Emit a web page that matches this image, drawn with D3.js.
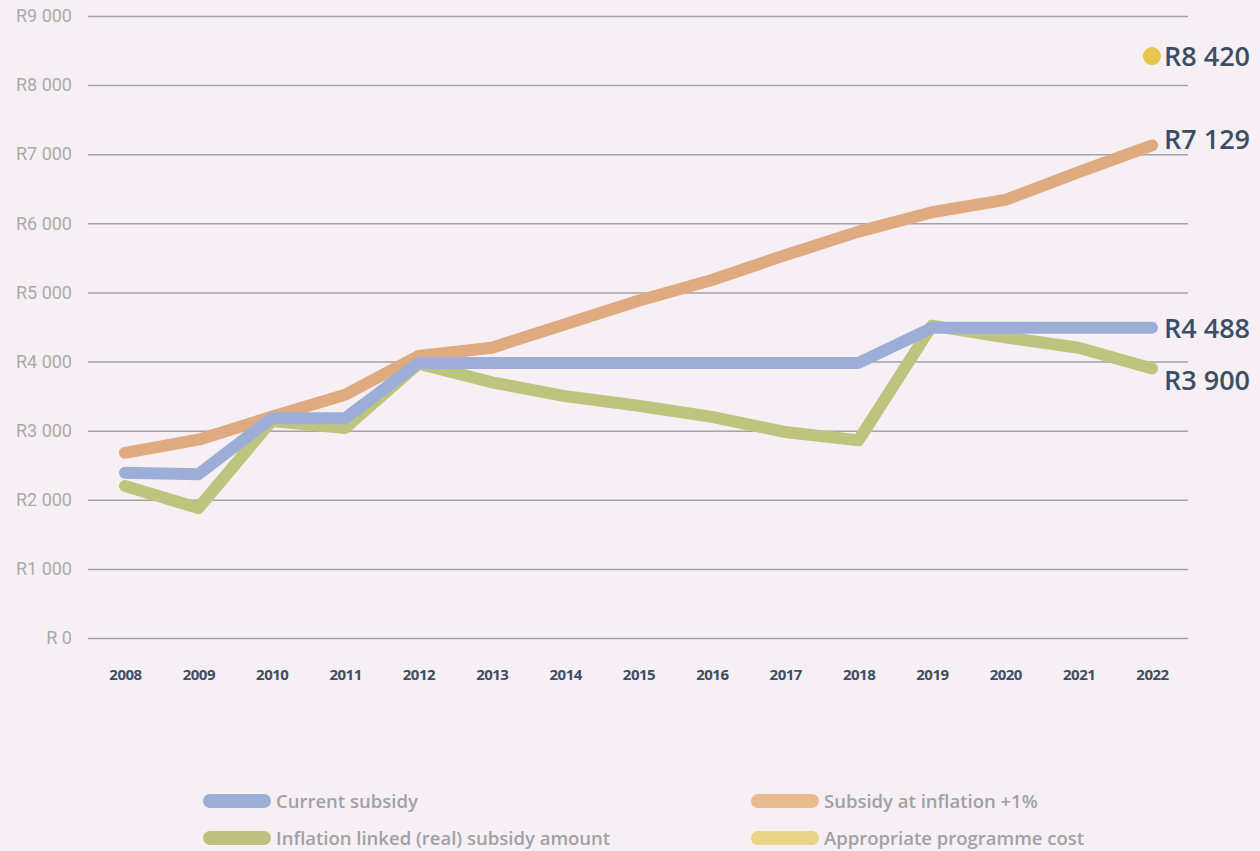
<!DOCTYPE html>
<meta charset="utf-8">
<head>
    <title>Subsidy comparison</title>
</head>
<style>
    body { margin: 0; background: #f6f0f4; }
    svg { display: block; }
</style>
<script src="https://d3js.org/d3.v7.min.js"></script>
<body>
    <div id="chart"></div>
</body>
<script>

    // data
    var years = ["2008", "2009", "2010", "2011", "2012", "2013", "2014", "2015",
        "2016", "2017", "2018", "2019", "2020", "2021", "2022"];
    var inflationPlus1 = [2680, 2870, 3200, 3520, 4080, 4200, 4540, 4880, 5180, 5540, 5880, 6160, 6340, 6740, 7129];
    var currentSubsidy = [2390, 2370, 3180, 3180, 3980, 3980, 3980, 3980, 3980, 3980, 3980, 4488, 4488, 4488, 4488];
    var realSubsidy = [2200, 1880, 3140, 3040, 3970, 3700, 3500, 3360, 3200, 2980, 2860, 4520, 4350, 4200, 3900];
    var programmeCost = 8420;
    var yTicks = [0, 1000, 2000, 3000, 4000, 5000, 6000, 7000, 8000, 9000];
    var endLabels = ["R8 420", "R7 129", "R4 488", "R3 900"];

    var width = 1260, height = 851;

    var svg = d3.select("#chart")
        .append("svg")
        .attr("width", width)
        .attr("height", height);

    var x = d3.scalePoint()
        .domain(years)
        .range([125, 1152]);

    var y = d3.scaleLinear()
        .domain([0, 9000])
        .range([638, 16]);

    var fmt = function (d) {
        return "R" + (d === 0 ? " 0" : d3.format(",")(d).replace(",", " "));
    };

    // y gridlines + labels
    var yAxis = d3.axisLeft(y)
        .tickValues(yTicks)
        .tickSize(-1100)
        .tickPadding(16)
        .tickFormat(fmt);

    var gy = svg.append("g")
        .attr("transform", "translate(88,0)")
        .call(yAxis);
    gy.select(".domain").remove();
    gy.selectAll("line")
        .attr("stroke", "#a3a3a3")
        .attr("stroke-width", 1.5);
    gy.selectAll("text")
        .attr("fill", "#aaaaaa")
        .attr("font-family", "Roboto, sans-serif")
        .attr("font-size", "18px");

    // x labels
    var xAxis = d3.axisBottom(x).tickSize(0).tickPadding(0);
    var gx = svg.append("g")
        .attr("transform", "translate(0,669)")
        .call(xAxis);
    gx.select(".domain").remove();
    gx.selectAll("text")
        .attr("fill", "#3f4d62")
        .attr("font-family", "Open Sans, sans-serif")
        .attr("font-weight", "bold")
        .attr("font-size", "15px")
        .attr("letter-spacing", "-0.5px");

    var line = d3.line()
        .x(function (d, i) { return x(years[i]); })
        .y(function (d) { return y(d); });

    var series = [
        { values: realSubsidy, color: "#bcc47e" },
        { values: inflationPlus1, color: "#e0aa80" },
        { values: currentSubsidy, color: "#9caed8" }
    ];

    svg.selectAll(".series")
        .data(series)
        .enter()
        .append("path")
        .attr("class", "series")
        .attr("fill", "none")
        .attr("stroke", function (d) { return d.color; })
        .attr("stroke-width", 12)
        .attr("stroke-linecap", "round")
        .attr("stroke-linejoin", "round")
        .attr("d", function (d) { return line(d.values); });

    // programme cost dot
    var last = years[years.length - 1];
    svg.append("circle")
        .attr("cx", x(last))
        .attr("cy", y(programmeCost))
        .attr("r", 9)
        .attr("fill", "#e6c64c");

    // end labels
    var labelY = [y(programmeCost), y(7129) - 6, y(4488), y(3900) + 12];
    svg.selectAll(".endlabel")
        .data(endLabels)
        .enter()
        .append("text")
        .attr("class", "endlabel")
        .attr("x", x(last) + 12)
        .attr("y", function (d, i) { return labelY[i]; })
        .attr("dy", "0.36em")
        .attr("fill", "#3d4d63")
        .attr("font-family", "Open Sans, sans-serif")
        .attr("font-weight", 600)
        .attr("font-size", "27px")
        .text(function (d) { return d; });

    // legend
    var legendItems = [
        { name: "Current subsidy", color: "#9aaed6", x: 203, y: 801 },
        { name: "Subsidy at inflation +1%", color: "#ebbb90", x: 751, y: 801 },
        { name: "Inflation linked (real) subsidy amount", color: "#bcc27e", x: 203, y: 838 },
        { name: "Appropriate programme cost", color: "#e9d488", x: 751, y: 838 }
    ];

    var lg = svg.selectAll(".legend")
        .data(legendItems)
        .enter()
        .append("g")
        .attr("class", "legend")
        .attr("transform", function (d) { return "translate(" + d.x + "," + d.y + ")"; });

    lg.append("rect")
        .attr("x", 0)
        .attr("y", -7)
        .attr("width", 68)
        .attr("height", 14)
        .attr("rx", 7)
        .attr("fill", function (d) { return d.color; });

    lg.append("text")
        .attr("x", 73)
        .attr("dy", "0.36em")
        .attr("fill", "#a0a0a6")
        .attr("font-family", "Open Sans, sans-serif")
        .attr("font-weight", 600)
        .attr("font-size", "18.5px")
        .text(function (d) { return d.name; });

</script>
